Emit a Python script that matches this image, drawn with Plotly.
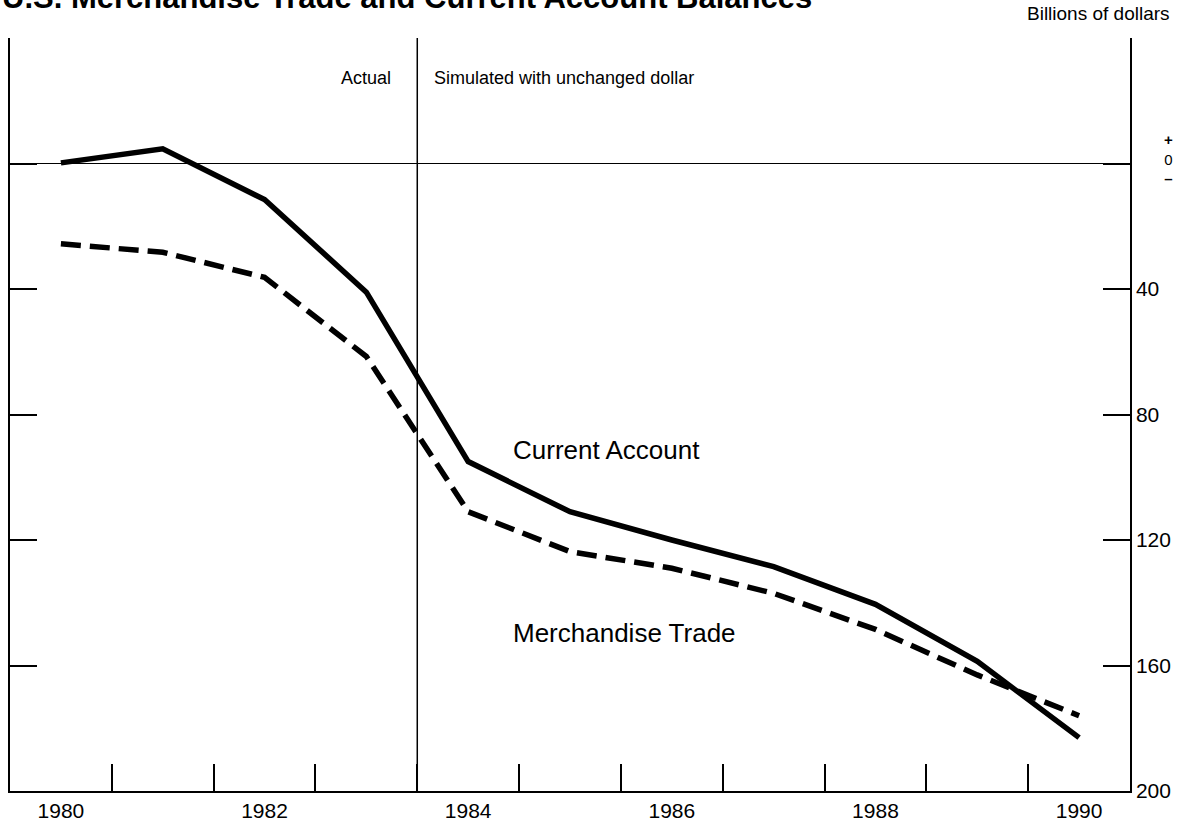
import plotly.graph_objects as go

years = [1980, 1981, 1982, 1983, 1984, 1985, 1986, 1987, 1988, 1989, 1990]
current_account = [0.2, 4.7, -11.5, -41, -95, -111, -120, -128.5, -140.5, -158.7, -183]
merchandise_trade = [-25.6, -28.3, -36.3, -61.5, -111, -123.7, -129, -137, -148.5, -163, -176]

x_label_years = [1980, 1982, 1984, 1986, 1988, 1990]
x_minor_ticks = [1980.5, 1981.5, 1982.5, 1983.5, 1984.5, 1985.5, 1986.5, 1987.5, 1988.5, 1989.5]
y_tickvals = [-200, -160, -120, -80, -40, 0, 40]
y_ticktext = ["200", "160", "120", "80", "40", "", ""]
actual_boundary = 1983.5

FONT = "Liberation Sans, Arial, Helvetica, sans-serif"

fig = go.Figure()
fig.add_trace(go.Scatter(x=years, y=current_account, mode="lines",
                         line=dict(color="black", width=5.5),
                         name="Current Account", hoverinfo="skip"))
fig.add_trace(go.Scatter(x=years, y=merchandise_trade, mode="lines",
                         line=dict(color="black", width=5.5, dash="20px,9px"),
                         name="Merchandise Trade", hoverinfo="skip"))

fig.add_shape(type="line", xref="x", yref="paper", x0=actual_boundary, x1=actual_boundary,
              y0=0, y1=1, line=dict(color="black", width=1.5))

fig.update_layout(
    width=1182, height=821,
    margin=dict(l=10, r=52, t=38, b=30),
    paper_bgcolor="white", plot_bgcolor="white",
    showlegend=False,
    font=dict(family=FONT, color="black", size=20),
    xaxis=dict(range=[1979.5, 1990.5], tickvals=x_label_years,
               ticktext=[str(v) for v in x_label_years], automargin=False,
               ticks="inside", ticklen=0, showgrid=False, zeroline=False,
               showline=True, linecolor="black", linewidth=1.5,
               tickfont=dict(size=21, family=FONT),
               minor=dict(tickvals=x_minor_ticks, ticks="inside", ticklen=27,
                          tickcolor="black", tickwidth=1.5, showgrid=False)),
    yaxis=dict(range=[-200, 40], tickvals=y_tickvals, ticktext=y_ticktext, automargin=False,
               side="right", ticks="inside", ticklen=27, tickwidth=1.5, tickcolor="black",
               mirror="ticks", showline=True, linecolor="black", linewidth=1.5,
               showgrid=False, zeroline=True, zerolinecolor="black", zerolinewidth=1.2,
               tickfont=dict(size=21, family=FONT)),
)

fig.add_annotation(text="<b>U.S. Merchandise Trade and Current Account Balances</b>",
                   xref="paper", yref="paper", x=-0.009, y=1.0532, xanchor="left", yanchor="middle",
                   showarrow=False, font=dict(size=31, family=FONT))
fig.add_annotation(text="Billions of dollars", xref="paper", yref="paper",
                   x=1.0375, y=1.032, xanchor="right", yanchor="middle",
                   showarrow=False, font=dict(size=19, family=FONT))
fig.add_annotation(text="<b>+</b><br>0<br><b>–</b>", xref="paper", yref="y", x=1.0345, y=1.5,
                   xanchor="center", yanchor="middle", showarrow=False,
                   font=dict(size=15, family=FONT))
fig.add_annotation(text="Actual", xref="x", yref="y", x=1983.26, y=27.4,
                   xanchor="right", yanchor="middle", showarrow=False,
                   font=dict(size=18, family=FONT))
fig.add_annotation(text="Simulated with unchanged dollar", xref="x", yref="y", x=1983.64, y=27.4,
                   xanchor="left", yanchor="middle", showarrow=False,
                   font=dict(size=18, family=FONT))
fig.add_annotation(text="Current Account", xref="x", yref="y", x=1984.42, y=-91.2,
                   xanchor="left", yanchor="middle", showarrow=False,
                   font=dict(size=26, family=FONT))
fig.add_annotation(text="Merchandise Trade", xref="x", yref="y", x=1984.42, y=-149.5,
                   xanchor="left", yanchor="middle", showarrow=False,
                   font=dict(size=26, family=FONT))

fig.write_html("out.html", config={"displayModeBar": False},
               post_script="document.body.style.margin='0';")
